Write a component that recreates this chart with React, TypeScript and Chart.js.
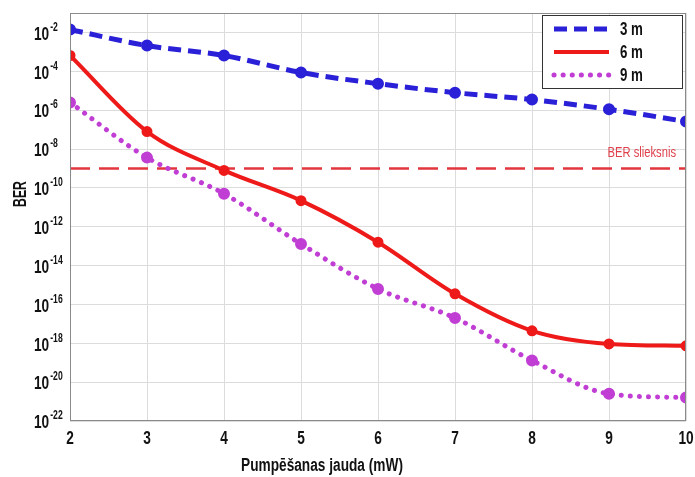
import { useEffect, useRef } from 'react';
import { Chart, registerables } from 'chart.js';

Chart.register(...registerables);

// Pump power (mW) on the x axis
const pumpPower = [2, 3, 4, 5, 6, 7, 8, 9, 10];
// Bit error rate for each fibre length
const ber3m = [1.4e-2, 2.1e-3, 6.5e-4, 8.7e-5, 2.3e-5, 7.9e-6, 3.5e-6, 1.1e-6, 2.6e-7];
const ber6m = [6.5e-4, 7.9e-8, 7.9e-10, 2.2e-11, 1.6e-13, 3.5e-16, 4.4e-18, 9.3e-19, 7.4e-19];
const ber9m = [2.5e-6, 3.6e-9, 5.0e-11, 1.3e-13, 6.3e-16, 2.0e-17, 1.3e-19, 2.5e-21, 1.6e-21];
const seriesLabels = ['3 m', '6 m', '9 m'];
// BER threshold
const berThreshold = 1e-9;
const thresholdLabel = 'BER slieksnis';
// Axis ticks
const xTicks = [2, 3, 4, 5, 6, 7, 8, 9, 10];
const yTickExponents = [-2, -4, -6, -8, -10, -12, -14, -16, -18, -20, -22];
const xTitle = 'Pumpēšanas jauda (mW)';
const yTitle = 'BER';

const FONT = '"Liberation Sans Narrow", "Arial Narrow", "Liberation Sans", Arial, sans-serif';

// Draws text squeezed horizontally to imitate a condensed face
function narrowText(ctx: CanvasRenderingContext2D, text: string, x: number, y: number, sx: number) {
  ctx.save();
  ctx.translate(x, y);
  ctx.scale(sx, 1);
  ctx.fillText(text, 0, 0);
  ctx.restore();
}

const overlay = {
  id: 'overlay',
  afterDraw(chart: any) {
    const { ctx, chartArea: a, scales } = chart;
    ctx.save();
    // plot frame
    ctx.strokeStyle = '#8a8a8a';
    ctx.lineWidth = 1;
    ctx.strokeRect(a.left + 0.5, a.top + 0.5, a.width - 1, a.height - 1);

    ctx.fillStyle = '#111';
    ctx.textBaseline = 'middle';
    const SX = 0.72;
    // y tick labels with exponents
    const ys = scales.y;
    yTickExponents.forEach((e) => {
      const py = ys.getPixelForValue(Math.pow(10, e));
      ctx.font = `bold 19px ${FONT}`;
      ctx.textAlign = 'left';
      narrowText(ctx, '10', 34, py + 2, SX);
      const w = ctx.measureText('10').width * SX;
      ctx.font = `bold 12px ${FONT}`;
      narrowText(ctx, String(e), 34 + w + 1, py - 5, SX);
    });
    // x tick labels
    const xs = scales.x;
    ctx.font = `bold 19px ${FONT}`;
    ctx.textAlign = 'center';
    xTicks.forEach((v) => {
      narrowText(ctx, String(v), xs.getPixelForValue(v), a.bottom + 18, SX);
    });
    // axis titles
    ctx.font = `bold 18px ${FONT}`;
    narrowText(ctx, xTitle, 322, a.bottom + 45, 0.76);
    ctx.save();
    ctx.translate(21, 194);
    ctx.rotate(-Math.PI / 2);
    narrowText(ctx, yTitle, 0, 0, 0.68);
    ctx.restore();

    // threshold label
    ctx.font = `14px ${FONT}`;
    ctx.fillStyle = '#e0404c';
    ctx.textAlign = 'right';
    narrowText(ctx, thresholdLabel, a.right - 10, ys.getPixelForValue(berThreshold) - 15, 0.8);

    // legend
    const lx = 542, ly = 15, lw = 140, lh = 73;
    ctx.fillStyle = '#fff';
    ctx.fillRect(lx, ly, lw, lh);
    ctx.strokeStyle = '#333';
    ctx.lineWidth = 1;
    ctx.strokeRect(lx + 0.5, ly + 0.5, lw, lh);
    chart.data.datasets.slice(0, 3).forEach((ds: any, i: number) => {
      const ry = ly + 14 + i * 23;
      ctx.save();
      ctx.strokeStyle = ds.borderColor;
      ctx.lineWidth = ds.borderWidth;
      ctx.lineCap = ds.borderCapStyle || 'butt';
      ctx.setLineDash(ds.borderDash || []);
      ctx.beginPath();
      ctx.moveTo(lx + 12, ry);
      ctx.lineTo(lx + 67, ry);
      ctx.stroke();
      ctx.restore();
      ctx.fillStyle = '#111';
      ctx.font = `bold 18px ${FONT}`;
      ctx.textAlign = 'left';
      narrowText(ctx, ds.label, lx + 78, ry + 1, 0.74);
    });
    ctx.restore();
  },
};

export default function App() {
  const ref = useRef<HTMLCanvasElement>(null);

  useEffect(() => {
    if (!ref.current) return;
    const pts = (arr: number[]) => pumpPower.map((x, i) => ({ x, y: arr[i] }));
    const chart = new Chart(ref.current, {
      type: 'line',
      data: {
        datasets: [
          {
            label: seriesLabels[0],
            data: pts(ber3m),
            borderColor: '#2a20d8',
            backgroundColor: '#2a20d8',
            borderWidth: 5,
            borderDash: [13, 7],
            pointRadius: 3.5,
            cubicInterpolationMode: 'monotone',
          },
          {
            label: seriesLabels[1],
            data: pts(ber6m),
            borderColor: '#ee1a1a',
            backgroundColor: '#ee1a1a',
            borderWidth: 4,
            pointRadius: 3.5,
            cubicInterpolationMode: 'monotone',
          },
          {
            label: seriesLabels[2],
            data: pts(ber9m),
            borderColor: '#c03ed4',
            backgroundColor: '#c03ed4',
            borderWidth: 5,
            borderDash: [0.1, 9],
            borderCapStyle: 'round',
            pointRadius: 3.5,
            cubicInterpolationMode: 'monotone',
          },
          {
            label: thresholdLabel,
            data: [
              { x: pumpPower[0], y: berThreshold },
              { x: pumpPower[pumpPower.length - 1], y: berThreshold },
            ],
            borderColor: '#e2363e',
            borderWidth: 2.5,
            borderDash: [20, 9],
            pointRadius: 0,
          },
        ],
      },
      options: {
        responsive: false,
        animation: false,
        devicePixelRatio: 1,
        layout: { padding: { left: 70, right: 9, top: 13, bottom: 56 } },
        plugins: { legend: { display: false }, tooltip: { enabled: false } },
        scales: {
          x: {
            type: 'linear',
            min: 2,
            max: 10,
            ticks: { display: false, stepSize: 1 },
            grid: { color: '#dcdcdc', drawTicks: false },
            border: { display: false },
          },
          y: {
            type: 'logarithmic',
            min: 1e-22,
            max: 1e-1,
            afterBuildTicks: (s: any) => {
              s.ticks = yTickExponents.map((e) => ({ value: Math.pow(10, e) }));
            },
            ticks: { display: false },
            grid: { color: '#dcdcdc', drawTicks: false },
            border: { display: false },
          },
        },
      },
      plugins: [overlay],
    });
    return () => chart.destroy();
  }, []);

  return (
    <div style={{ position: 'fixed', left: 0, top: 0, width: 695, height: 477, background: '#fff' }}>
      <canvas ref={ref} width={695} height={477} />
    </div>
  );
}
